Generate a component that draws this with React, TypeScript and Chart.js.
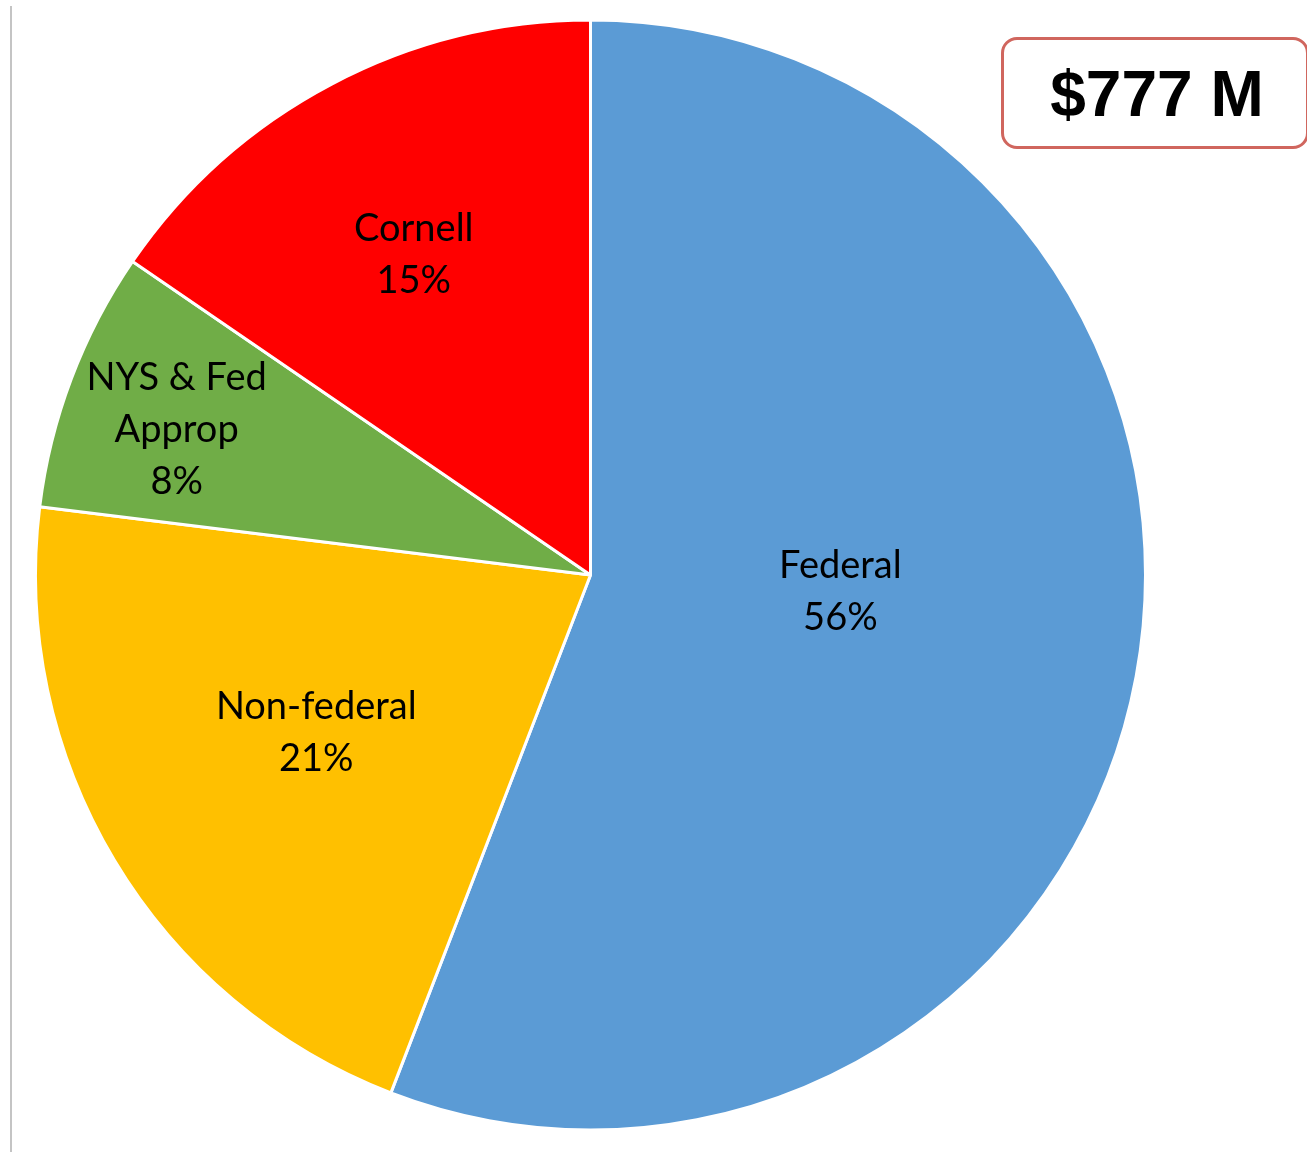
import React, { useEffect, useRef } from "react";
import { Chart, registerables } from "chart.js";

Chart.register(...registerables);

const categories = ["Federal", "Non-federal", "NYS & Fed\nApprop", "Cornell"];
const valuesM = [434, 164, 59, 120];
const colors = ["#5B9BD5", "#FFC000", "#70AD47", "#FF0000"];
// label placement: fraction of radius and angle nudge (deg) from slice mid-angle
const labelRadiusFrac = [0.451, 0.569, 0.791, 0.661];
const labelAngleNudge = [-7.1, 1.2, -1.25, -1.0];

const total = valuesM.reduce((a, b) => a + b, 0);

const labelPlugin = {
  id: "sliceLabels",
  afterDatasetsDraw(chart: any) {
    const ctx = chart.ctx;
    const meta = chart.getDatasetMeta(0);
    const fontSize = 38;
    const lineH = 52;
    ctx.save();
    ctx.font = `${fontSize}px Lato`;
    ctx.fillStyle = "#000000";
    ctx.textAlign = "center";
    ctx.textBaseline = "alphabetic";
    meta.data.forEach((arc: any, i: number) => {
      const { x, y, startAngle, endAngle, outerRadius } = arc.getProps(
        ["x", "y", "startAngle", "endAngle", "outerRadius"],
        true
      );
      const mid = (startAngle + endAngle) / 2 + (labelAngleNudge[i] * Math.PI) / 180;
      const r = outerRadius * labelRadiusFrac[i];
      const cx = x + Math.cos(mid) * r;
      const cy = y + Math.sin(mid) * r;
      const pct = Math.round((valuesM[i] / total) * 100);
      const lines = [...categories[i].split("\n"), `${pct}%`];
      const n = lines.length;
      lines.forEach((t, k) => {
        const ly = cy + (k - (n - 1) / 2) * lineH + 13.5;
        ctx.fillText(t, cx, ly);
      });
    });
    ctx.restore();
  },
};

export default function App() {
  const ref = useRef<HTMLCanvasElement | null>(null);
  useEffect(() => {
    if (!ref.current) return;
    const chart = new Chart(ref.current, {
      type: "pie",
      data: {
        labels: categories.map((c) => c.replace("\n", " ")),
        datasets: [
          {
            data: valuesM,
            backgroundColor: colors,
            borderColor: "#FFFFFF",
            borderWidth: 3,
          },
        ],
      },
      options: {
        responsive: false,
        animation: false,
        radius: 555,
        layout: { padding: { left: 0, right: 126, top: 0, bottom: 2 } },
        plugins: {
          legend: { display: false },
          tooltip: { enabled: false },
        },
      },
      plugins: [labelPlugin],
    });
    return () => chart.destroy();
  }, []);

  return (
    <div style={{ position: "absolute", left: 0, top: 0, width: 1307, height: 1152, background: "#fff", overflow: "hidden" }}>
      <div style={{ position: "absolute", left: 10, top: 6, width: 2, height: 1146, background: "#C4C4C4" }} />
      <canvas ref={ref} width={1307} height={1152} style={{ position: "absolute", left: 0, top: 0, width: 1307, height: 1152 }} />
      <div
        style={{
          position: "absolute",
          left: 1001,
          top: 37,
          width: 302,
          height: 106,
          border: "3px solid #D0665E",
          borderRadius: 16,
          background: "#fff",
          display: "flex",
          alignItems: "center",
          justifyContent: "center",
          fontFamily: "'Liberation Sans', Arial, sans-serif",
          fontWeight: 700,
          fontSize: 64,
          color: "#000",
          lineHeight: 1,
        }}
      >
        <span style={{ marginLeft: 4, marginTop: 2 }}>${total} M</span>
      </div>
    </div>
  );
}
